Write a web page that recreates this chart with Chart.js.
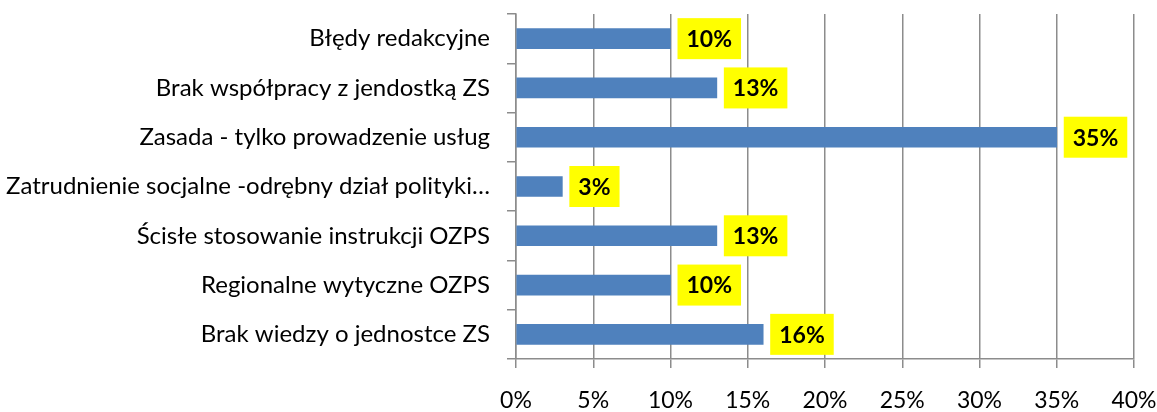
<!DOCTYPE html>
<html>
<head>
<meta charset="utf-8">
<script src="https://cdn.jsdelivr.net/npm/chart.js@4/dist/chart.umd.min.js"></script>
<style>
  html, body { margin: 0; padding: 0; background: #fff; }
  #wrap { width: 1157px; height: 412px; }
</style>
</head>
<body>
<div id="wrap"><canvas id="chart"></canvas></div>
<script>
    // Data
    const categories = [
        "Błędy redakcyjne",
        "Brak współpracy z jendostką ZS",
        "Zasada - tylko prowadzenie usług",
        "Zatrudnienie socjalne -odrębny dział polityki…",
        "Ścisłe stosowanie instrukcji OZPS",
        "Regionalne wytyczne OZPS",
        "Brak wiedzy o jednostce ZS"
    ];
    const values = [10, 13, 35, 3, 13, 10, 16];
    const xTicks = [0, 5, 10, 15, 20, 25, 30, 35, 40];

    const gridColor = "#8c8c8c";

    // Yellow value boxes
    const boxLabels = {
        id: 'boxLabels',
        afterDatasetsDraw: function (chart) {
            const ctx = chart.ctx;
            const meta = chart.getDatasetMeta(0);
            ctx.save();
            ctx.font = 'bold 23px Lato';
            meta.data.forEach(function (bar, i) {
                const txt = values[i] + '%';
                const w = ctx.measureText(txt).width + 18;
                const h = 41;
                const x0 = bar.x + 7;
                ctx.fillStyle = '#ffff00';
                ctx.fillRect(x0, bar.y - h / 2, w, h);
                ctx.fillStyle = '#000000';
                ctx.textAlign = 'center';
                ctx.textBaseline = 'middle';
                ctx.fillText(txt, x0 + w / 2, bar.y + 1);
            });
            ctx.restore();
        }
    };

    var ctx1 = document.getElementById('chart').getContext('2d');
    var myChart = new Chart(ctx1, {
        type: 'bar',
        data: {
            labels: categories,
            datasets: [{
                data: values,
                backgroundColor: '#4f81bd',
                barThickness: 20
            }]
        },
        options: {
            indexAxis: 'y',
            responsive: true,
            maintainAspectRatio: false,
            animation: false,
            layout: { padding: { top: 14, right: 23, bottom: 0, left: 0 } },
            plugins: {
                legend: { display: false },
                tooltip: { enabled: false }
            },
            scales: {
                x: {
                    min: 0,
                    max: 40,
                    afterBuildTicks: function (scale) {
                        scale.ticks = xTicks.map(function (v) { return { value: v }; });
                    },
                    afterFit: function (scale) {
                        scale.height = 53;
                        scale.paddingLeft = 0;
                        scale.paddingRight = 0;
                    },
                    ticks: {
                        callback: function (v) { return v + '%'; },
                        color: '#000',
                        font: { family: 'Lato', size: 23 },
                        padding: 19,
                        maxRotation: 0
                    },
                    grid: {
                        color: gridColor,
                        lineWidth: 1.5,
                        tickLength: 9
                    },
                    border: { color: gridColor, width: 1.5 }
                },
                y: {
                    afterFit: function (scale) {
                        scale.width = 516;
                        scale.paddingTop = 0;
                        scale.paddingBottom = 0;
                    },
                    ticks: {
                        color: '#000',
                        font: { family: 'Lato', size: 24 },
                        padding: 17,
                        autoSkip: false
                    },
                    grid: {
                        offset: true,
                        drawOnChartArea: false,
                        color: gridColor,
                        lineWidth: 1.5,
                        tickLength: 9
                    },
                    border: { color: gridColor, width: 1.5 }
                }
            }
        },
        plugins: [boxLabels]
    });
</script>
</body>
</html>
